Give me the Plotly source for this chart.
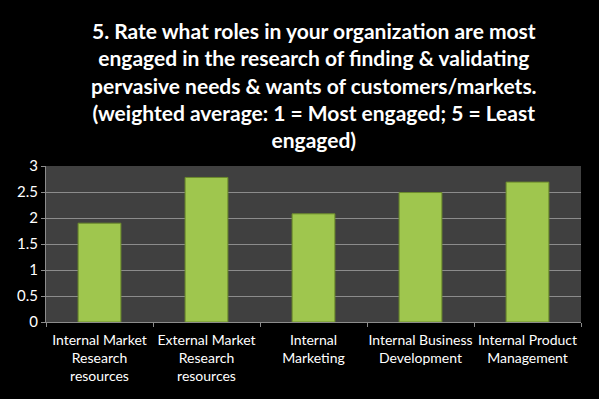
import plotly.graph_objects as go

categories = [
    "Internal Market<br>Research<br>resources",
    "External Market<br>Research<br>resources",
    "Internal<br>Marketing",
    "Internal Business<br>Development",
    "Internal Product<br>Management",
]
values = [1.9, 2.78, 2.08, 2.49, 2.69]
y_ticks = [0, 0.5, 1, 1.5, 2, 2.5, 3]
y_tick_labels = ["0", "0.5", "1", "1.5", "2", "2.5", "3"]

title_text = ("5. Rate what roles in your organization are most<br>"
              "engaged in the research of finding &amp; validating<br>"
              "pervasive needs &amp; wants of customers/markets.<br>"
              "(weighted average: 1 = Most engaged; 5 = Least<br>"
              "engaged)")

fig = go.Figure()
fig.add_trace(go.Bar(
    x=categories,
    y=values,
    marker=dict(color="#9fc64e", line=dict(color="#6b8a2c", width=1)),
    width=0.4,
))

fig.update_layout(
    width=599, height=399,
    paper_bgcolor="#000000",
    plot_bgcolor="#404040",
    margin=dict(l=46, r=18, t=166, b=77),
    showlegend=False,
    font=dict(family="Lato, 'Open Sans', sans-serif", color="#ffffff"),
    bargap=0.6,
)
fig.add_annotation(
    text="<b>" + title_text + "</b>",
    xref="paper", yref="paper",
    x=0.5, xanchor="center",
    y=1 + (166 - 16) / 156, yanchor="top",
    showarrow=False,
    align="center",
    font=dict(size=21, color="#ffffff", family="Lato, sans-serif"),
)
fig.update_yaxes(
    range=[0, 3],
    tickvals=y_ticks,
    ticktext=y_tick_labels,
    showgrid=True, gridcolor="#8c8c8c", gridwidth=1,
    showline=True, linecolor="#8c8c8c", linewidth=1,
    ticks="outside", ticklen=4, tickcolor="#8c8c8c",
    tickfont=dict(size=15, color="#ffffff"),
    zeroline=False,
)
fig.update_xaxes(
    showline=True, linecolor="#8c8c8c", linewidth=1,
    ticks="outside", ticklen=4, tickcolor="#8c8c8c",
    tickson="boundaries",
    tickfont=dict(size=14, color="#ffffff"),
    tickangle=0,
    ticklabelstandoff=5,
    mirror=False,
)
fig.write_html(
    "out.html",
    config={"displayModeBar": False},
    post_script="document.body.style.margin='0';document.body.style.backgroundColor='#000';",
)
